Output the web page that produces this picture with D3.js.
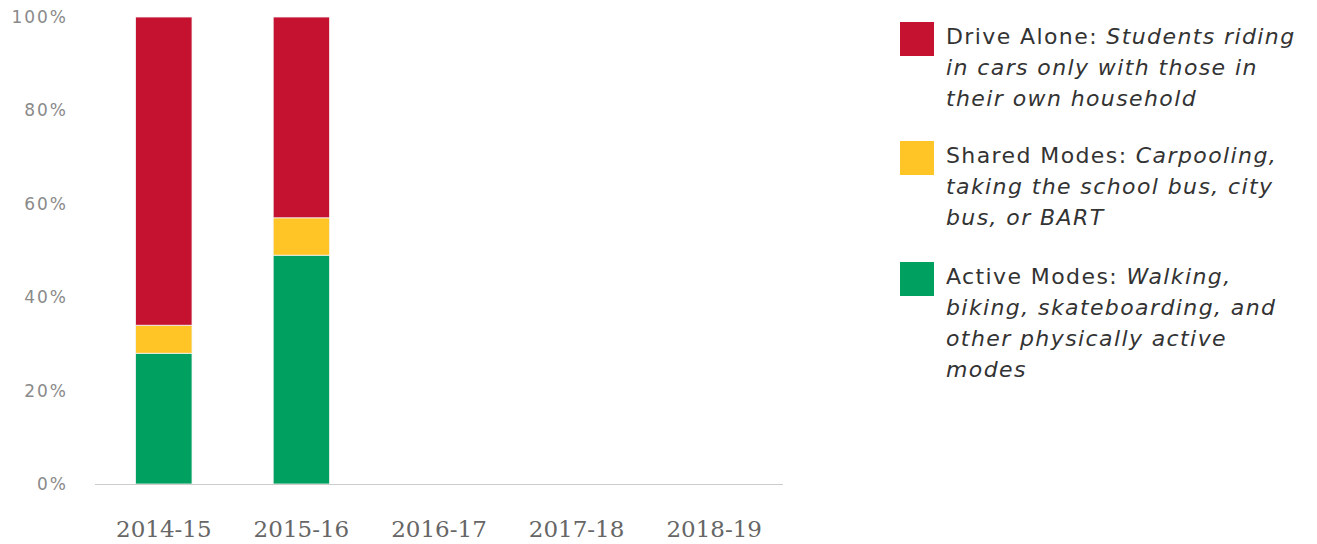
<!DOCTYPE html>
<html>
<head>
<meta charset="utf-8">
<script src="https://cdn.jsdelivr.net/npm/d3@7"></script>
<style>
  body { margin: 0; background: #fff; }
</style>
</head>
<body>
<div id="chart"></div>
<script>
// data
var years = ["2014-15", "2015-16", "2016-17", "2017-18", "2018-19"];
var activeModes = [28, 49, null, null, null];
var sharedModes = [6, 8, null, null, null];
var driveAlone = [66, 43, null, null, null];
var yTicks = [0, 20, 40, 60, 80, 100];

var seriesKeys = ["active", "shared", "drive"];
var seriesColors = { active: "#00a160", shared: "#ffc425", drive: "#c41230" };

var legendItems = [
  { key: "drive", head: "Drive Alone: ", lines: ["Students riding", "in cars only with those in", "their own household"] },
  { key: "shared", head: "Shared Modes: ", lines: ["Carpooling,", "taking the school bus, city", "bus, or BART"] },
  { key: "active", head: "Active Modes: ", lines: ["Walking,", "biking, skateboarding, and", "other physically active", "modes"] }
];

var width = 1317, height = 544;
var margin = {top: 17, left: 95, right: 534, bottom: 60};

var svg = d3.select("#chart")
  .append("svg")
    .attr("width", width)
    .attr("height", height);

var rows = years.map(function(y, i) {
  return { year: y, active: activeModes[i] || 0, shared: sharedModes[i] || 0, drive: driveAlone[i] || 0 };
});

var x = d3.scaleBand()
  .domain(years)
  .range([margin.left, width - margin.right])
  .paddingInner(0.59)
  .paddingOuter(0.295);

var y = d3.scaleLinear()
  .domain([0, 100])
  .range([height - margin.bottom, margin.top]);

var layers = d3.stack().keys(seriesKeys)(rows);

// bars
svg.append("g")
  .selectAll("g")
  .data(layers)
  .enter()
  .append("g")
    .attr("fill", function(d) { return seriesColors[d.key]; })
  .selectAll("rect")
  .data(function(d) { return d.filter(function(p) { return p[1] > p[0]; }); })
  .enter()
  .append("rect")
    .attr("x", function(d) { return x(d.data.year); })
    .attr("y", function(d) { return y(d[1]); })
    .attr("width", x.bandwidth())
    .attr("height", function(d) { return y(d[0]) - y(d[1]); })
    .attr("stroke", "#f4f4f4")
    .attr("stroke-width", 0.8);

// baseline
svg.append("line")
  .attr("x1", margin.left)
  .attr("x2", width - margin.right)
  .attr("y1", y(0) + 0.5)
  .attr("y2", y(0) + 0.5)
  .attr("stroke", "#cccccc")
  .attr("stroke-width", 1);

// y axis labels
var yAxis = svg.append("g")
  .attr("transform", "translate(68,0)")
  .call(d3.axisLeft(y).tickValues(yTicks).tickSize(0).tickFormat(function(d) { return d + "%"; }));
yAxis.select(".domain").remove();
yAxis.selectAll("text")
  .attr("x", 0)
  .attr("fill", "#8a8a8a")
  .attr("font-family", "DejaVu Sans")
  .attr("font-size", 17)
  .attr("letter-spacing", 2);

// x axis labels
var xAxis = svg.append("g")
  .attr("transform", "translate(0," + y(0) + ")")
  .call(d3.axisBottom(x).tickSize(0));
xAxis.select(".domain").remove();
xAxis.selectAll("text")
  .attr("y", 0)
  .attr("dy", "53px")
  .attr("fill", "#666")
  .attr("font-family", "DejaVu Serif")
  .attr("font-size", 23);

// legend
var legendTops = [22, 141, 262];
var legend = svg.append("g");
legendItems.forEach(function(item, i) {
  var g = legend.append("g").attr("transform", "translate(900," + legendTops[i] + ")");
  g.append("rect")
    .attr("width", 34)
    .attr("height", 34)
    .attr("fill", seriesColors[item.key]);
  var t = g.append("text")
    .attr("x", 46)
    .attr("y", 22)
    .attr("fill", "#333")
    .attr("font-family", "DejaVu Sans")
    .attr("font-size", 22)
    .attr("letter-spacing", 1.4);
  t.append("tspan").text(item.head);
  t.append("tspan").attr("font-style", "italic").text(item.lines[0]);
  item.lines.slice(1).forEach(function(line) {
    t.append("tspan")
      .attr("x", 46)
      .attr("dy", 31)
      .attr("font-style", "italic")
      .text(line);
  });
});
</script>
</body>
</html>
